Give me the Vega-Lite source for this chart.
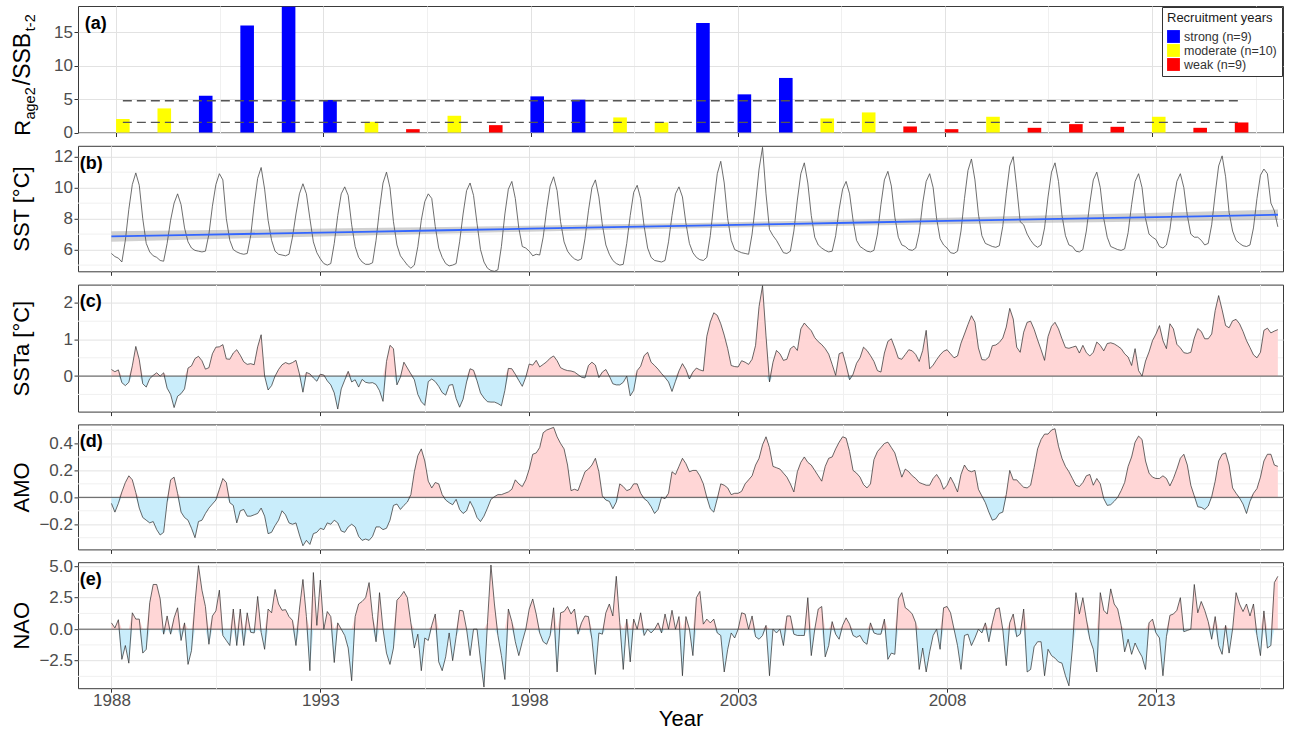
{
  "$schema": "https://vega.github.io/schema/vega-lite/v6.json",
  "background": "white",
  "padding": {"left": 9, "top": 5, "right": 5, "bottom": 4},
  "spacing": 12.8,
  "bounds": "flush",
  "config": {
    "font": "Liberation Sans",
    "view": {"stroke": "#3a3a3a", "strokeWidth": 1},
    "axis": {
      "domain": false,
      "grid": true,
      "labelOverlap": false,
      "tickColor": "#333333",
      "tickSize": 4,
      "tickWidth": 1,
      "labelColor": "#4D4D4D",
      "labelFontSize": 17,
      "labelPadding": 1.5,
      "titleFontSize": 22,
      "titleFontWeight": "normal",
      "titleColor": "#000000"
    }
  },
  "datasets": {
    "recruit": [
      {"year": 1988, "ratio": 2.0, "group": "moderate"},
      {"year": 1989, "ratio": 3.6, "group": "moderate"},
      {"year": 1990, "ratio": 5.5, "group": "strong"},
      {"year": 1991, "ratio": 16.0, "group": "strong"},
      {"year": 1992, "ratio": 18.8, "group": "strong"},
      {"year": 1993, "ratio": 4.85, "group": "strong"},
      {"year": 1994, "ratio": 1.6, "group": "moderate"},
      {"year": 1995, "ratio": 0.5, "group": "weak"},
      {"year": 1996, "ratio": 2.5, "group": "moderate"},
      {"year": 1997, "ratio": 1.1, "group": "weak"},
      {"year": 1998, "ratio": 5.4, "group": "strong"},
      {"year": 1999, "ratio": 4.9, "group": "strong"},
      {"year": 2000, "ratio": 2.25, "group": "moderate"},
      {"year": 2001, "ratio": 1.5, "group": "moderate"},
      {"year": 2002, "ratio": 16.35, "group": "strong"},
      {"year": 2003, "ratio": 5.7, "group": "strong"},
      {"year": 2004, "ratio": 8.15, "group": "strong"},
      {"year": 2005, "ratio": 2.1, "group": "moderate"},
      {"year": 2006, "ratio": 3.0, "group": "moderate"},
      {"year": 2007, "ratio": 0.9, "group": "weak"},
      {"year": 2008, "ratio": 0.5, "group": "weak"},
      {"year": 2009, "ratio": 2.35, "group": "moderate"},
      {"year": 2010, "ratio": 0.7, "group": "weak"},
      {"year": 2011, "ratio": 1.25, "group": "weak"},
      {"year": 2012, "ratio": 0.85, "group": "weak"},
      {"year": 2013, "ratio": 2.35, "group": "moderate"},
      {"year": 2014, "ratio": 0.7, "group": "weak"},
      {"year": 2015, "ratio": 1.5, "group": "weak"}
    ],
    "thresholds": [
      {"level": "upper", "v": 4.74},
      {"level": "lower", "v": 1.5}
    ],
    "trend": [
      {"t": 1988, "fit": 6.85, "lo": 6.51, "hi": 7.19},
      {"t": 1990, "fit": 6.95, "lo": 6.65, "hi": 7.25},
      {"t": 1992, "fit": 7.05, "lo": 6.78, "hi": 7.32},
      {"t": 1994, "fit": 7.15, "lo": 6.91, "hi": 7.39},
      {"t": 1996, "fit": 7.25, "lo": 7.04, "hi": 7.46},
      {"t": 1998, "fit": 7.35, "lo": 7.16, "hi": 7.54},
      {"t": 2000, "fit": 7.45, "lo": 7.28, "hi": 7.63},
      {"t": 2002, "fit": 7.55, "lo": 7.38, "hi": 7.72},
      {"t": 2004, "fit": 7.65, "lo": 7.48, "hi": 7.83},
      {"t": 2006, "fit": 7.75, "lo": 7.56, "hi": 7.94},
      {"t": 2008, "fit": 7.85, "lo": 7.64, "hi": 8.06},
      {"t": 2010, "fit": 7.95, "lo": 7.71, "hi": 8.19},
      {"t": 2012, "fit": 8.05, "lo": 7.78, "hi": 8.32},
      {"t": 2014, "fit": 8.15, "lo": 7.85, "hi": 8.45},
      {"t": 2015.92, "fit": 8.25, "lo": 7.91, "hi": 8.59}
    ],
    "monthly": [
      {"yr":1988,"mo":1,"sst":5.75,"ssta":0.18,"amo":-0.045,"nao":0.5},
      {"yr":1988,"mo":2,"sst":5.55,"ssta":0.12,"amo":-0.11,"nao":0.1},
      {"yr":1988,"mo":3,"sst":5.45,"ssta":0.17,"amo":-0.045,"nao":0.75},
      {"yr":1988,"mo":4,"sst":5.2,"ssta":-0.18,"amo":0.04,"nao":-2.4},
      {"yr":1988,"mo":5,"sst":6.6,"ssta":-0.26,"amo":0.11,"nao":-1.3},
      {"yr":1988,"mo":6,"sst":8.6,"ssta":-0.17,"amo":0.16,"nao":-2.7},
      {"yr":1988,"mo":7,"sst":10.2,"ssta":0.28,"amo":0.13,"nao":1.3},
      {"yr":1988,"mo":8,"sst":10.95,"ssta":0.81,"amo":0.035,"nao":0.8},
      {"yr":1988,"mo":9,"sst":10.15,"ssta":0.45,"amo":-0.08,"nao":0.8},
      {"yr":1988,"mo":10,"sst":8.0,"ssta":-0.21,"amo":-0.15,"nao":-1.9},
      {"yr":1988,"mo":11,"sst":6.4,"ssta":-0.3,"amo":-0.17,"nao":-1.6},
      {"yr":1988,"mo":12,"sst":5.85,"ssta":-0.07,"amo":-0.19,"nao":2.1},
      {"yr":1989,"mo":1,"sst":5.6,"ssta":0.02,"amo":-0.18,"nao":3.55},
      {"yr":1989,"mo":2,"sst":5.5,"ssta":0.09,"amo":-0.24,"nao":3.55},
      {"yr":1989,"mo":3,"sst":5.3,"ssta":0.0,"amo":-0.28,"nao":2.4},
      {"yr":1989,"mo":4,"sst":5.25,"ssta":0.09,"amo":-0.26,"nao":-0.4},
      {"yr":1989,"mo":5,"sst":6.4,"ssta":-0.33,"amo":-0.035,"nao":1.05},
      {"yr":1989,"mo":6,"sst":7.9,"ssta":-0.5,"amo":0.13,"nao":-0.4},
      {"yr":1989,"mo":7,"sst":9.0,"ssta":-0.86,"amo":0.15,"nao":0.9},
      {"yr":1989,"mo":8,"sst":9.6,"ssta":-0.55,"amo":0.03,"nao":1.7},
      {"yr":1989,"mo":9,"sst":8.9,"ssta":-0.48,"amo":-0.11,"nao":-0.9},
      {"yr":1989,"mo":10,"sst":7.4,"ssta":-0.35,"amo":-0.15,"nao":0.5},
      {"yr":1989,"mo":11,"sst":6.5,"ssta":0.22,"amo":-0.17,"nao":-2.8},
      {"yr":1989,"mo":12,"sst":6.1,"ssta":0.28,"amo":-0.23,"nao":-1.7},
      {"yr":1990,"mo":1,"sst":5.95,"ssta":0.48,"amo":-0.3,"nao":2.1},
      {"yr":1990,"mo":2,"sst":5.9,"ssta":0.54,"amo":-0.18,"nao":5.05},
      {"yr":1990,"mo":3,"sst":5.85,"ssta":0.42,"amo":-0.17,"nao":3.1},
      {"yr":1990,"mo":4,"sst":5.9,"ssta":0.19,"amo":-0.12,"nao":1.8},
      {"yr":1990,"mo":5,"sst":7.0,"ssta":0.23,"amo":-0.08,"nao":-1.2},
      {"yr":1990,"mo":6,"sst":8.8,"ssta":0.61,"amo":-0.05,"nao":1.05},
      {"yr":1990,"mo":7,"sst":10.2,"ssta":0.79,"amo":-0.02,"nao":1.45},
      {"yr":1990,"mo":8,"sst":10.9,"ssta":0.8,"amo":0.06,"nao":3.1},
      {"yr":1990,"mo":9,"sst":10.5,"ssta":0.86,"amo":0.14,"nao":-0.5},
      {"yr":1990,"mo":10,"sst":8.0,"ssta":0.47,"amo":0.11,"nao":-0.9},
      {"yr":1990,"mo":11,"sst":6.6,"ssta":0.46,"amo":-0.04,"nao":-1.3},
      {"yr":1990,"mo":12,"sst":6.0,"ssta":0.63,"amo":-0.06,"nao":1.6},
      {"yr":1991,"mo":1,"sst":5.85,"ssta":0.72,"amo":-0.19,"nao":-1.3},
      {"yr":1991,"mo":2,"sst":5.75,"ssta":0.57,"amo":-0.1,"nao":1.6},
      {"yr":1991,"mo":3,"sst":5.7,"ssta":0.39,"amo":-0.09,"nao":-1.3},
      {"yr":1991,"mo":4,"sst":5.75,"ssta":0.32,"amo":-0.14,"nao":1.3},
      {"yr":1991,"mo":5,"sst":6.9,"ssta":0.34,"amo":-0.14,"nao":-0.25},
      {"yr":1991,"mo":6,"sst":8.9,"ssta":0.31,"amo":-0.13,"nao":-0.3},
      {"yr":1991,"mo":7,"sst":10.6,"ssta":0.8,"amo":-0.12,"nao":2.6},
      {"yr":1991,"mo":8,"sst":11.3,"ssta":1.13,"amo":-0.08,"nao":-0.25},
      {"yr":1991,"mo":9,"sst":9.9,"ssta":0.0,"amo":-0.14,"nao":-1.6},
      {"yr":1991,"mo":10,"sst":7.9,"ssta":-0.38,"amo":-0.27,"nao":1.6},
      {"yr":1991,"mo":11,"sst":6.6,"ssta":-0.26,"amo":-0.26,"nao":1.3},
      {"yr":1991,"mo":12,"sst":5.9,"ssta":0.0,"amo":-0.21,"nao":3.15},
      {"yr":1992,"mo":1,"sst":5.7,"ssta":0.18,"amo":-0.17,"nao":2.0},
      {"yr":1992,"mo":2,"sst":5.65,"ssta":0.31,"amo":-0.1,"nao":1.5},
      {"yr":1992,"mo":3,"sst":5.6,"ssta":0.37,"amo":-0.13,"nao":1.55},
      {"yr":1992,"mo":4,"sst":5.7,"ssta":0.33,"amo":-0.19,"nao":1.0},
      {"yr":1992,"mo":5,"sst":6.8,"ssta":0.37,"amo":-0.2,"nao":0.7},
      {"yr":1992,"mo":6,"sst":8.3,"ssta":0.43,"amo":-0.19,"nao":-1.3},
      {"yr":1992,"mo":7,"sst":9.6,"ssta":0.06,"amo":-0.28,"nao":1.6},
      {"yr":1992,"mo":8,"sst":10.25,"ssta":-0.44,"amo":-0.36,"nao":3.95},
      {"yr":1992,"mo":9,"sst":9.6,"ssta":0.1,"amo":-0.32,"nao":1.0},
      {"yr":1992,"mo":10,"sst":8.0,"ssta":0.06,"amo":-0.35,"nao":-3.3},
      {"yr":1992,"mo":11,"sst":6.5,"ssta":-0.05,"amo":-0.27,"nao":4.5},
      {"yr":1992,"mo":12,"sst":5.8,"ssta":-0.14,"amo":-0.26,"nao":0.3},
      {"yr":1993,"mo":1,"sst":5.4,"ssta":0.05,"amo":-0.23,"nao":3.9},
      {"yr":1993,"mo":2,"sst":5.1,"ssta":0.03,"amo":-0.24,"nao":0.0},
      {"yr":1993,"mo":3,"sst":5.0,"ssta":-0.13,"amo":-0.19,"nao":1.4},
      {"yr":1993,"mo":4,"sst":5.1,"ssta":-0.24,"amo":-0.2,"nao":1.0},
      {"yr":1993,"mo":5,"sst":6.4,"ssta":-0.46,"amo":-0.17,"nao":-2.65},
      {"yr":1993,"mo":6,"sst":8.2,"ssta":-0.9,"amo":-0.19,"nao":0.5},
      {"yr":1993,"mo":7,"sst":9.6,"ssta":-0.35,"amo":-0.25,"nao":0.0},
      {"yr":1993,"mo":8,"sst":10.05,"ssta":-0.11,"amo":-0.26,"nao":-0.5},
      {"yr":1993,"mo":9,"sst":9.5,"ssta":0.13,"amo":-0.22,"nao":-1.5},
      {"yr":1993,"mo":10,"sst":7.6,"ssta":-0.16,"amo":-0.2,"nao":-4.1},
      {"yr":1993,"mo":11,"sst":6.2,"ssta":-0.1,"amo":-0.22,"nao":1.0},
      {"yr":1993,"mo":12,"sst":5.5,"ssta":-0.3,"amo":-0.29,"nao":2.0},
      {"yr":1994,"mo":1,"sst":5.2,"ssta":-0.09,"amo":-0.32,"nao":2.2},
      {"yr":1994,"mo":2,"sst":5.05,"ssta":-0.17,"amo":-0.31,"nao":2.5},
      {"yr":1994,"mo":3,"sst":5.05,"ssta":-0.19,"amo":-0.32,"nao":3.7},
      {"yr":1994,"mo":4,"sst":5.15,"ssta":-0.18,"amo":-0.29,"nao":1.0},
      {"yr":1994,"mo":5,"sst":6.6,"ssta":-0.23,"amo":-0.22,"nao":-1.0},
      {"yr":1994,"mo":6,"sst":8.6,"ssta":-0.4,"amo":-0.22,"nao":2.9},
      {"yr":1994,"mo":7,"sst":10.3,"ssta":-0.69,"amo":-0.24,"nao":0.0},
      {"yr":1994,"mo":8,"sst":11.0,"ssta":0.4,"amo":-0.23,"nao":-1.9},
      {"yr":1994,"mo":9,"sst":10.0,"ssta":0.84,"amo":-0.17,"nao":-2.8},
      {"yr":1994,"mo":10,"sst":7.8,"ssta":0.75,"amo":-0.06,"nao":-1.5},
      {"yr":1994,"mo":11,"sst":6.3,"ssta":-0.24,"amo":-0.05,"nao":2.3},
      {"yr":1994,"mo":12,"sst":5.6,"ssta":-0.03,"amo":-0.09,"nao":2.6},
      {"yr":1995,"mo":1,"sst":5.3,"ssta":0.38,"amo":-0.06,"nao":3.0},
      {"yr":1995,"mo":2,"sst":5.0,"ssta":0.22,"amo":-0.035,"nao":2.5},
      {"yr":1995,"mo":3,"sst":4.8,"ssta":0.06,"amo":0.02,"nao":0.5},
      {"yr":1995,"mo":4,"sst":5.0,"ssta":-0.1,"amo":0.19,"nao":-1.5},
      {"yr":1995,"mo":5,"sst":6.2,"ssta":-0.5,"amo":0.31,"nao":-0.4},
      {"yr":1995,"mo":6,"sst":7.9,"ssta":-0.7,"amo":0.36,"nao":-3.3},
      {"yr":1995,"mo":7,"sst":9.1,"ssta":-0.8,"amo":0.27,"nao":-0.7},
      {"yr":1995,"mo":8,"sst":9.6,"ssta":-0.15,"amo":0.12,"nao":-0.9},
      {"yr":1995,"mo":9,"sst":9.3,"ssta":-0.08,"amo":0.07,"nao":0.3},
      {"yr":1995,"mo":10,"sst":7.5,"ssta":-0.15,"amo":0.11,"nao":1.2},
      {"yr":1995,"mo":11,"sst":6.1,"ssta":-0.28,"amo":0.1,"nao":-2.6},
      {"yr":1995,"mo":12,"sst":5.5,"ssta":-0.45,"amo":0.02,"nao":-3.3},
      {"yr":1996,"mo":1,"sst":5.1,"ssta":-0.52,"amo":-0.02,"nao":-2.2},
      {"yr":1996,"mo":2,"sst":4.95,"ssta":-0.25,"amo":-0.04,"nao":-0.3},
      {"yr":1996,"mo":3,"sst":5.0,"ssta":-0.23,"amo":-0.055,"nao":-2.5},
      {"yr":1996,"mo":4,"sst":5.1,"ssta":-0.61,"amo":-0.015,"nao":-0.6},
      {"yr":1996,"mo":5,"sst":6.5,"ssta":-0.85,"amo":-0.09,"nao":1.5},
      {"yr":1996,"mo":6,"sst":8.3,"ssta":-0.63,"amo":-0.12,"nao":1.45},
      {"yr":1996,"mo":7,"sst":9.8,"ssta":-0.16,"amo":-0.1,"nao":0.0},
      {"yr":1996,"mo":8,"sst":10.3,"ssta":0.2,"amo":-0.03,"nao":-2.1},
      {"yr":1996,"mo":9,"sst":9.5,"ssta":0.16,"amo":-0.08,"nao":0.0},
      {"yr":1996,"mo":10,"sst":7.7,"ssta":-0.13,"amo":-0.15,"nao":0.0},
      {"yr":1996,"mo":11,"sst":6.0,"ssta":-0.46,"amo":-0.18,"nao":-2.5},
      {"yr":1996,"mo":12,"sst":5.2,"ssta":-0.6,"amo":-0.14,"nao":-4.6},
      {"yr":1997,"mo":1,"sst":4.8,"ssta":-0.7,"amo":-0.08,"nao":0.5},
      {"yr":1997,"mo":2,"sst":4.65,"ssta":-0.71,"amo":-0.015,"nao":5.1},
      {"yr":1997,"mo":3,"sst":4.6,"ssta":-0.71,"amo":0.005,"nao":2.0},
      {"yr":1997,"mo":4,"sst":4.7,"ssta":-0.75,"amo":0.02,"nao":-0.5},
      {"yr":1997,"mo":5,"sst":6.2,"ssta":-0.81,"amo":0.02,"nao":-2.1},
      {"yr":1997,"mo":6,"sst":8.3,"ssta":-0.39,"amo":0.03,"nao":-4.0},
      {"yr":1997,"mo":7,"sst":9.9,"ssta":0.21,"amo":0.04,"nao":1.6},
      {"yr":1997,"mo":8,"sst":10.4,"ssta":0.2,"amo":0.06,"nao":0.6},
      {"yr":1997,"mo":9,"sst":9.3,"ssta":0.05,"amo":0.13,"nao":-1.0},
      {"yr":1997,"mo":10,"sst":7.4,"ssta":-0.12,"amo":0.1,"nao":-2.1},
      {"yr":1997,"mo":11,"sst":6.2,"ssta":-0.28,"amo":0.08,"nao":-1.0},
      {"yr":1997,"mo":12,"sst":6.1,"ssta":-0.03,"amo":0.13,"nao":0.0},
      {"yr":1998,"mo":1,"sst":5.9,"ssta":0.33,"amo":0.21,"nao":1.6},
      {"yr":1998,"mo":2,"sst":5.6,"ssta":0.3,"amo":0.32,"nao":2.4},
      {"yr":1998,"mo":3,"sst":5.7,"ssta":0.43,"amo":0.33,"nao":1.2},
      {"yr":1998,"mo":4,"sst":5.65,"ssta":0.25,"amo":0.37,"nao":-0.3},
      {"yr":1998,"mo":5,"sst":6.8,"ssta":0.32,"amo":0.48,"nao":-1.0},
      {"yr":1998,"mo":6,"sst":8.6,"ssta":0.39,"amo":0.5,"nao":-1.2},
      {"yr":1998,"mo":7,"sst":10.1,"ssta":0.49,"amo":0.51,"nao":-0.5},
      {"yr":1998,"mo":8,"sst":10.7,"ssta":0.55,"amo":0.52,"nao":1.7},
      {"yr":1998,"mo":9,"sst":9.8,"ssta":0.42,"amo":0.45,"nao":-3.4},
      {"yr":1998,"mo":10,"sst":7.8,"ssta":0.23,"amo":0.4,"nao":1.3},
      {"yr":1998,"mo":11,"sst":6.5,"ssta":0.18,"amo":0.36,"nao":1.4},
      {"yr":1998,"mo":12,"sst":5.9,"ssta":0.15,"amo":0.24,"nao":1.8},
      {"yr":1999,"mo":1,"sst":5.6,"ssta":0.14,"amo":0.05,"nao":1.2},
      {"yr":1999,"mo":2,"sst":5.4,"ssta":0.11,"amo":0.06,"nao":1.6},
      {"yr":1999,"mo":3,"sst":5.3,"ssta":0.04,"amo":0.05,"nao":-0.4},
      {"yr":1999,"mo":4,"sst":5.4,"ssta":-0.03,"amo":0.12,"nao":0.5},
      {"yr":1999,"mo":5,"sst":6.7,"ssta":-0.05,"amo":0.19,"nao":1.05},
      {"yr":1999,"mo":6,"sst":8.5,"ssta":0.29,"amo":0.21,"nao":1.0},
      {"yr":1999,"mo":7,"sst":10.0,"ssta":0.38,"amo":0.24,"nao":-0.8},
      {"yr":1999,"mo":8,"sst":10.5,"ssta":0.3,"amo":0.29,"nao":-3.6},
      {"yr":1999,"mo":9,"sst":9.4,"ssta":-0.04,"amo":0.19,"nao":-0.3},
      {"yr":1999,"mo":10,"sst":7.6,"ssta":0.11,"amo":0.01,"nao":-0.4},
      {"yr":1999,"mo":11,"sst":6.3,"ssta":0.18,"amo":-0.02,"nao":1.3},
      {"yr":1999,"mo":12,"sst":5.7,"ssta":0.0,"amo":-0.03,"nao":2.0},
      {"yr":2000,"mo":1,"sst":5.3,"ssta":-0.21,"amo":-0.085,"nao":1.05},
      {"yr":2000,"mo":2,"sst":5.1,"ssta":-0.24,"amo":-0.035,"nao":4.2},
      {"yr":2000,"mo":3,"sst":5.0,"ssta":-0.24,"amo":0.1,"nao":0.5},
      {"yr":2000,"mo":4,"sst":5.05,"ssta":-0.17,"amo":0.08,"nao":-3.2},
      {"yr":2000,"mo":5,"sst":6.4,"ssta":0.0,"amo":0.05,"nao":0.8},
      {"yr":2000,"mo":6,"sst":8.2,"ssta":-0.54,"amo":0.06,"nao":-2.6},
      {"yr":2000,"mo":7,"sst":9.7,"ssta":-0.39,"amo":0.1,"nao":0.8},
      {"yr":2000,"mo":8,"sst":10.15,"ssta":0.15,"amo":0.1,"nao":0.0},
      {"yr":2000,"mo":9,"sst":9.3,"ssta":0.27,"amo":0.03,"nao":1.3},
      {"yr":2000,"mo":10,"sst":7.5,"ssta":0.56,"amo":-0.01,"nao":-0.5},
      {"yr":2000,"mo":11,"sst":6.1,"ssta":0.65,"amo":-0.03,"nao":0.0},
      {"yr":2000,"mo":12,"sst":5.5,"ssta":0.38,"amo":-0.07,"nao":-0.3},
      {"yr":2001,"mo":1,"sst":5.3,"ssta":0.29,"amo":-0.12,"nao":0.0},
      {"yr":2001,"mo":2,"sst":5.25,"ssta":0.19,"amo":-0.09,"nao":0.5},
      {"yr":2001,"mo":3,"sst":5.2,"ssta":0.07,"amo":0.0,"nao":-0.3},
      {"yr":2001,"mo":4,"sst":5.3,"ssta":-0.04,"amo":-0.01,"nao":1.2},
      {"yr":2001,"mo":5,"sst":6.5,"ssta":-0.16,"amo":0.03,"nao":0.0},
      {"yr":2001,"mo":6,"sst":8.2,"ssta":-0.42,"amo":0.19,"nao":1.5},
      {"yr":2001,"mo":7,"sst":9.6,"ssta":-0.14,"amo":0.17,"nao":0.0},
      {"yr":2001,"mo":8,"sst":10.05,"ssta":0.14,"amo":0.23,"nao":1.0},
      {"yr":2001,"mo":9,"sst":9.4,"ssta":0.34,"amo":0.29,"nao":-3.7},
      {"yr":2001,"mo":10,"sst":7.7,"ssta":0.18,"amo":0.25,"nao":1.0},
      {"yr":2001,"mo":11,"sst":6.4,"ssta":-0.08,"amo":0.19,"nao":0.0},
      {"yr":2001,"mo":12,"sst":5.8,"ssta":0.11,"amo":0.2,"nao":-2.1},
      {"yr":2002,"mo":1,"sst":5.5,"ssta":0.22,"amo":0.2,"nao":2.5},
      {"yr":2002,"mo":2,"sst":5.35,"ssta":0.17,"amo":0.16,"nao":3.0},
      {"yr":2002,"mo":3,"sst":5.3,"ssta":0.14,"amo":0.1,"nao":0.4},
      {"yr":2002,"mo":4,"sst":5.5,"ssta":1.09,"amo":0.0,"nao":0.8},
      {"yr":2002,"mo":5,"sst":6.9,"ssta":1.48,"amo":-0.085,"nao":0.5},
      {"yr":2002,"mo":6,"sst":9.0,"ssta":1.73,"amo":-0.11,"nao":0.8},
      {"yr":2002,"mo":7,"sst":10.9,"ssta":1.66,"amo":-0.01,"nao":-0.3},
      {"yr":2002,"mo":8,"sst":11.7,"ssta":1.43,"amo":0.1,"nao":-0.5},
      {"yr":2002,"mo":9,"sst":10.3,"ssta":1.12,"amo":0.09,"nao":-3.4},
      {"yr":2002,"mo":10,"sst":8.0,"ssta":0.75,"amo":0.07,"nao":-1.6},
      {"yr":2002,"mo":11,"sst":6.6,"ssta":0.29,"amo":0.02,"nao":-0.3},
      {"yr":2002,"mo":12,"sst":6.0,"ssta":0.26,"amo":0.03,"nao":-0.7},
      {"yr":2003,"mo":1,"sst":5.9,"ssta":0.25,"amo":0.03,"nao":0.0},
      {"yr":2003,"mo":2,"sst":5.8,"ssta":0.42,"amo":0.045,"nao":1.3},
      {"yr":2003,"mo":3,"sst":5.75,"ssta":0.38,"amo":0.1,"nao":1.2},
      {"yr":2003,"mo":4,"sst":5.7,"ssta":0.32,"amo":0.13,"nao":0.0},
      {"yr":2003,"mo":5,"sst":7.0,"ssta":0.46,"amo":0.16,"nao":1.05},
      {"yr":2003,"mo":6,"sst":9.0,"ssta":0.84,"amo":0.24,"nao":-0.6},
      {"yr":2003,"mo":7,"sst":11.2,"ssta":1.9,"amo":0.29,"nao":-0.8},
      {"yr":2003,"mo":8,"sst":12.6,"ssta":2.47,"amo":0.39,"nao":-0.5},
      {"yr":2003,"mo":9,"sst":9.6,"ssta":1.1,"amo":0.45,"nao":0.3},
      {"yr":2003,"mo":10,"sst":7.3,"ssta":-0.16,"amo":0.37,"nao":-3.7},
      {"yr":2003,"mo":11,"sst":6.9,"ssta":0.38,"amo":0.23,"nao":0.0},
      {"yr":2003,"mo":12,"sst":6.6,"ssta":0.7,"amo":0.22,"nao":-0.3},
      {"yr":2004,"mo":1,"sst":6.2,"ssta":0.61,"amo":0.21,"nao":0.0},
      {"yr":2004,"mo":2,"sst":5.8,"ssta":0.43,"amo":0.18,"nao":-1.3},
      {"yr":2004,"mo":3,"sst":5.75,"ssta":0.46,"amo":0.15,"nao":1.05},
      {"yr":2004,"mo":4,"sst":5.9,"ssta":0.75,"amo":0.1,"nao":1.05},
      {"yr":2004,"mo":5,"sst":7.2,"ssta":0.82,"amo":0.04,"nao":-0.4},
      {"yr":2004,"mo":6,"sst":9.2,"ssta":0.7,"amo":0.19,"nao":-0.5},
      {"yr":2004,"mo":7,"sst":10.9,"ssta":1.29,"amo":0.26,"nao":-0.5},
      {"yr":2004,"mo":8,"sst":11.6,"ssta":1.45,"amo":0.3,"nao":-0.5},
      {"yr":2004,"mo":9,"sst":10.3,"ssta":1.34,"amo":0.26,"nao":2.5},
      {"yr":2004,"mo":10,"sst":8.2,"ssta":1.24,"amo":0.24,"nao":-2.1},
      {"yr":2004,"mo":11,"sst":6.8,"ssta":1.05,"amo":0.2,"nao":0.0},
      {"yr":2004,"mo":12,"sst":6.3,"ssta":0.94,"amo":0.16,"nao":1.6},
      {"yr":2005,"mo":1,"sst":6.1,"ssta":0.86,"amo":0.12,"nao":1.8},
      {"yr":2005,"mo":2,"sst":5.95,"ssta":0.75,"amo":0.23,"nao":-2.2},
      {"yr":2005,"mo":3,"sst":5.85,"ssta":0.6,"amo":0.29,"nao":-1.3},
      {"yr":2005,"mo":4,"sst":5.9,"ssta":0.32,"amo":0.3,"nao":0.6},
      {"yr":2005,"mo":5,"sst":6.9,"ssta":0.02,"amo":0.36,"nao":-0.4},
      {"yr":2005,"mo":6,"sst":8.6,"ssta":0.61,"amo":0.41,"nao":-0.8},
      {"yr":2005,"mo":7,"sst":9.9,"ssta":0.65,"amo":0.45,"nao":0.3},
      {"yr":2005,"mo":8,"sst":10.4,"ssta":0.3,"amo":0.44,"nao":0.9},
      {"yr":2005,"mo":9,"sst":9.6,"ssta":-0.1,"amo":0.34,"nao":0.4},
      {"yr":2005,"mo":10,"sst":7.9,"ssta":0.05,"amo":0.2,"nao":-0.5},
      {"yr":2005,"mo":11,"sst":6.6,"ssta":0.35,"amo":0.18,"nao":-0.65},
      {"yr":2005,"mo":12,"sst":6.2,"ssta":0.5,"amo":0.15,"nao":-0.5},
      {"yr":2006,"mo":1,"sst":6.05,"ssta":0.79,"amo":0.095,"nao":-1.0},
      {"yr":2006,"mo":2,"sst":5.9,"ssta":0.7,"amo":0.07,"nao":-1.2},
      {"yr":2006,"mo":3,"sst":5.85,"ssta":0.56,"amo":0.1,"nao":0.5},
      {"yr":2006,"mo":4,"sst":5.95,"ssta":0.4,"amo":0.28,"nao":-0.3},
      {"yr":2006,"mo":5,"sst":7.0,"ssta":0.15,"amo":0.34,"nao":-0.4},
      {"yr":2006,"mo":6,"sst":8.9,"ssta":0.11,"amo":0.37,"nao":-0.4},
      {"yr":2006,"mo":7,"sst":10.5,"ssta":0.63,"amo":0.4,"nao":0.8},
      {"yr":2006,"mo":8,"sst":11.05,"ssta":0.95,"amo":0.41,"nao":-2.4},
      {"yr":2006,"mo":9,"sst":10.1,"ssta":1.02,"amo":0.37,"nao":-1.9},
      {"yr":2006,"mo":10,"sst":8.1,"ssta":0.77,"amo":0.33,"nao":-2.0},
      {"yr":2006,"mo":11,"sst":6.8,"ssta":0.49,"amo":0.24,"nao":2.4},
      {"yr":2006,"mo":12,"sst":6.3,"ssta":0.46,"amo":0.15,"nao":2.9},
      {"yr":2007,"mo":1,"sst":6.2,"ssta":0.59,"amo":0.21,"nao":1.7},
      {"yr":2007,"mo":2,"sst":6.0,"ssta":0.72,"amo":0.19,"nao":1.5},
      {"yr":2007,"mo":3,"sst":5.95,"ssta":0.69,"amo":0.16,"nao":1.2},
      {"yr":2007,"mo":4,"sst":6.1,"ssta":0.59,"amo":0.14,"nao":0.5},
      {"yr":2007,"mo":5,"sst":7.1,"ssta":0.4,"amo":0.11,"nao":-3.2},
      {"yr":2007,"mo":6,"sst":9.0,"ssta":0.7,"amo":0.1,"nao":-1.5},
      {"yr":2007,"mo":7,"sst":10.4,"ssta":1.25,"amo":0.09,"nao":-3.4},
      {"yr":2007,"mo":8,"sst":10.9,"ssta":0.2,"amo":0.09,"nao":-1.8},
      {"yr":2007,"mo":9,"sst":10.0,"ssta":0.3,"amo":0.14,"nao":-0.5},
      {"yr":2007,"mo":10,"sst":8.0,"ssta":0.45,"amo":0.17,"nao":0.0},
      {"yr":2007,"mo":11,"sst":6.7,"ssta":0.58,"amo":0.13,"nao":-1.6},
      {"yr":2007,"mo":12,"sst":6.3,"ssta":0.68,"amo":0.06,"nao":1.7},
      {"yr":2008,"mo":1,"sst":6.1,"ssta":0.72,"amo":0.09,"nao":1.8},
      {"yr":2008,"mo":2,"sst":5.8,"ssta":0.61,"amo":0.15,"nao":1.3},
      {"yr":2008,"mo":3,"sst":5.75,"ssta":0.5,"amo":0.1,"nao":0.0},
      {"yr":2008,"mo":4,"sst":5.9,"ssta":0.55,"amo":0.04,"nao":-1.3},
      {"yr":2008,"mo":5,"sst":7.2,"ssta":0.9,"amo":0.17,"nao":-3.2},
      {"yr":2008,"mo":6,"sst":9.3,"ssta":1.15,"amo":0.24,"nao":-0.5},
      {"yr":2008,"mo":7,"sst":11.1,"ssta":1.41,"amo":0.2,"nao":-0.4},
      {"yr":2008,"mo":8,"sst":11.85,"ssta":1.65,"amo":0.19,"nao":-1.3},
      {"yr":2008,"mo":9,"sst":10.5,"ssta":1.47,"amo":0.2,"nao":-0.7},
      {"yr":2008,"mo":10,"sst":8.3,"ssta":0.77,"amo":0.06,"nao":0.0},
      {"yr":2008,"mo":11,"sst":6.9,"ssta":0.45,"amo":0.01,"nao":-0.3},
      {"yr":2008,"mo":12,"sst":6.4,"ssta":0.44,"amo":-0.04,"nao":0.5},
      {"yr":2009,"mo":1,"sst":6.3,"ssta":0.52,"amo":-0.11,"nao":-1.0},
      {"yr":2009,"mo":2,"sst":6.2,"ssta":0.83,"amo":-0.17,"nao":0.5},
      {"yr":2009,"mo":3,"sst":6.15,"ssta":0.85,"amo":-0.16,"nao":1.6},
      {"yr":2009,"mo":4,"sst":6.25,"ssta":0.92,"amo":-0.12,"nao":1.7},
      {"yr":2009,"mo":5,"sst":7.5,"ssta":1.04,"amo":-0.11,"nao":0.0},
      {"yr":2009,"mo":6,"sst":9.6,"ssta":1.34,"amo":0.02,"nao":-2.9},
      {"yr":2009,"mo":7,"sst":11.4,"ssta":1.85,"amo":0.2,"nao":0.5},
      {"yr":2009,"mo":8,"sst":12.0,"ssta":1.56,"amo":0.13,"nao":1.2},
      {"yr":2009,"mo":9,"sst":10.0,"ssta":0.79,"amo":0.13,"nao":-0.6},
      {"yr":2009,"mo":10,"sst":7.8,"ssta":0.65,"amo":0.1,"nao":-0.4},
      {"yr":2009,"mo":11,"sst":7.6,"ssta":1.2,"amo":0.075,"nao":1.6},
      {"yr":2009,"mo":12,"sst":7.0,"ssta":1.47,"amo":0.07,"nao":-3.4},
      {"yr":2010,"mo":1,"sst":6.6,"ssta":1.5,"amo":0.09,"nao":-3.2},
      {"yr":2010,"mo":2,"sst":6.3,"ssta":1.28,"amo":0.22,"nao":-1.4},
      {"yr":2010,"mo":3,"sst":6.15,"ssta":0.99,"amo":0.36,"nao":-1.0},
      {"yr":2010,"mo":4,"sst":6.3,"ssta":0.72,"amo":0.43,"nao":-1.0},
      {"yr":2010,"mo":5,"sst":7.4,"ssta":0.43,"amo":0.47,"nao":-3.7},
      {"yr":2010,"mo":6,"sst":9.4,"ssta":1.08,"amo":0.47,"nao":-1.6},
      {"yr":2010,"mo":7,"sst":11.0,"ssta":1.36,"amo":0.5,"nao":-2.1},
      {"yr":2010,"mo":8,"sst":11.6,"ssta":1.47,"amo":0.51,"nao":-2.3},
      {"yr":2010,"mo":9,"sst":10.4,"ssta":1.29,"amo":0.38,"nao":-2.6},
      {"yr":2010,"mo":10,"sst":8.2,"ssta":1.02,"amo":0.29,"nao":-2.7},
      {"yr":2010,"mo":11,"sst":6.9,"ssta":0.78,"amo":0.23,"nao":-3.7},
      {"yr":2010,"mo":12,"sst":6.3,"ssta":0.76,"amo":0.19,"nao":-4.5},
      {"yr":2011,"mo":1,"sst":6.2,"ssta":0.79,"amo":0.14,"nao":-1.5},
      {"yr":2011,"mo":2,"sst":5.9,"ssta":0.82,"amo":0.09,"nao":2.9},
      {"yr":2011,"mo":3,"sst":5.85,"ssta":0.63,"amo":0.08,"nao":1.2},
      {"yr":2011,"mo":4,"sst":6.0,"ssta":0.84,"amo":0.11,"nao":2.5},
      {"yr":2011,"mo":5,"sst":7.2,"ssta":0.64,"amo":0.16,"nao":0.8},
      {"yr":2011,"mo":6,"sst":9.0,"ssta":0.55,"amo":0.17,"nao":-0.8},
      {"yr":2011,"mo":7,"sst":10.5,"ssta":0.65,"amo":0.09,"nao":-1.6},
      {"yr":2011,"mo":8,"sst":11.0,"ssta":0.93,"amo":0.14,"nao":-3.4},
      {"yr":2011,"mo":9,"sst":10.0,"ssta":0.84,"amo":0.1,"nao":2.9},
      {"yr":2011,"mo":10,"sst":8.0,"ssta":0.69,"amo":-0.01,"nao":1.5},
      {"yr":2011,"mo":11,"sst":6.8,"ssta":0.89,"amo":-0.06,"nao":1.2},
      {"yr":2011,"mo":12,"sst":6.2,"ssta":0.91,"amo":-0.055,"nao":3.2},
      {"yr":2012,"mo":1,"sst":6.1,"ssta":0.88,"amo":-0.03,"nao":2.0},
      {"yr":2012,"mo":2,"sst":6.0,"ssta":0.82,"amo":0.0,"nao":1.6},
      {"yr":2012,"mo":3,"sst":5.95,"ssta":0.75,"amo":0.05,"nao":0.3},
      {"yr":2012,"mo":4,"sst":6.05,"ssta":0.61,"amo":0.11,"nao":-1.8},
      {"yr":2012,"mo":5,"sst":7.1,"ssta":0.52,"amo":0.23,"nao":-0.8},
      {"yr":2012,"mo":6,"sst":8.9,"ssta":0.29,"amo":0.3,"nao":-2.0},
      {"yr":2012,"mo":7,"sst":10.4,"ssta":0.75,"amo":0.41,"nao":-1.1},
      {"yr":2012,"mo":8,"sst":10.9,"ssta":0.15,"amo":0.455,"nao":-1.7},
      {"yr":2012,"mo":9,"sst":10.0,"ssta":0.0,"amo":0.43,"nao":-2.2},
      {"yr":2012,"mo":10,"sst":8.0,"ssta":0.41,"amo":0.27,"nao":-3.2},
      {"yr":2012,"mo":11,"sst":7.0,"ssta":0.66,"amo":0.18,"nao":0.5},
      {"yr":2012,"mo":12,"sst":6.8,"ssta":0.97,"amo":0.15,"nao":0.8},
      {"yr":2013,"mo":1,"sst":6.65,"ssta":1.15,"amo":0.14,"nao":-0.3},
      {"yr":2013,"mo":2,"sst":6.2,"ssta":1.38,"amo":0.14,"nao":-0.7},
      {"yr":2013,"mo":3,"sst":6.1,"ssta":0.97,"amo":0.16,"nao":-3.7},
      {"yr":2013,"mo":4,"sst":6.3,"ssta":0.75,"amo":0.14,"nao":-0.6},
      {"yr":2013,"mo":5,"sst":7.3,"ssta":1.43,"amo":0.085,"nao":1.1},
      {"yr":2013,"mo":6,"sst":9.0,"ssta":1.29,"amo":0.14,"nao":1.2},
      {"yr":2013,"mo":7,"sst":10.4,"ssta":0.87,"amo":0.21,"nao":1.5},
      {"yr":2013,"mo":8,"sst":10.9,"ssta":0.77,"amo":0.29,"nao":2.5},
      {"yr":2013,"mo":9,"sst":10.0,"ssta":0.64,"amo":0.32,"nao":-0.2},
      {"yr":2013,"mo":10,"sst":8.2,"ssta":0.62,"amo":0.24,"nao":-0.1},
      {"yr":2013,"mo":11,"sst":7.0,"ssta":0.65,"amo":0.09,"nao":0.0},
      {"yr":2013,"mo":12,"sst":6.8,"ssta":1.04,"amo":0.01,"nao":3.55},
      {"yr":2014,"mo":1,"sst":6.8,"ssta":1.3,"amo":-0.07,"nao":1.3},
      {"yr":2014,"mo":2,"sst":6.6,"ssta":1.22,"amo":-0.075,"nao":2.2},
      {"yr":2014,"mo":3,"sst":6.3,"ssta":1.02,"amo":-0.09,"nao":1.5},
      {"yr":2014,"mo":4,"sst":6.4,"ssta":1.02,"amo":-0.065,"nao":0.6},
      {"yr":2014,"mo":5,"sst":7.6,"ssta":1.15,"amo":0.005,"nao":-0.8},
      {"yr":2014,"mo":6,"sst":9.6,"ssta":1.79,"amo":0.12,"nao":1.0},
      {"yr":2014,"mo":7,"sst":11.4,"ssta":2.2,"amo":0.27,"nao":-1.3},
      {"yr":2014,"mo":8,"sst":12.05,"ssta":1.81,"amo":0.32,"nao":-2.0},
      {"yr":2014,"mo":9,"sst":10.7,"ssta":1.38,"amo":0.33,"nao":0.3},
      {"yr":2014,"mo":10,"sst":8.4,"ssta":1.32,"amo":0.24,"nao":-1.9},
      {"yr":2014,"mo":11,"sst":7.2,"ssta":1.51,"amo":0.07,"nao":0.0},
      {"yr":2014,"mo":12,"sst":6.6,"ssta":1.55,"amo":0.03,"nao":2.9},
      {"yr":2015,"mo":1,"sst":6.4,"ssta":1.43,"amo":-0.005,"nao":2.0},
      {"yr":2015,"mo":2,"sst":6.25,"ssta":1.22,"amo":-0.05,"nao":1.4},
      {"yr":2015,"mo":3,"sst":6.2,"ssta":0.97,"amo":-0.12,"nao":2.0},
      {"yr":2015,"mo":4,"sst":6.3,"ssta":0.78,"amo":-0.03,"nao":1.05},
      {"yr":2015,"mo":5,"sst":7.4,"ssta":0.58,"amo":0.03,"nao":2.0},
      {"yr":2015,"mo":6,"sst":9.3,"ssta":0.5,"amo":0.065,"nao":-0.5},
      {"yr":2015,"mo":7,"sst":10.8,"ssta":0.65,"amo":0.15,"nao":-2.1},
      {"yr":2015,"mo":8,"sst":11.2,"ssta":1.25,"amo":0.27,"nao":1.45},
      {"yr":2015,"mo":9,"sst":10.9,"ssta":1.31,"amo":0.32,"nao":-1.5},
      {"yr":2015,"mo":10,"sst":9.0,"ssta":1.18,"amo":0.32,"nao":-1.3},
      {"yr":2015,"mo":11,"sst":8.5,"ssta":1.23,"amo":0.24,"nao":3.7},
      {"yr":2015,"mo":12,"sst":7.47,"ssta":1.27,"amo":0.23,"nao":4.2}
    ]
  },
  "vconcat": [
    {
      "width": 1205,
      "height": 126.5,
      "layer": [
        {
          "data": {"name": "recruit"},
          "mark": {"type": "bar", "width": 13.6, "xOffset": 6.7},
          "encoding": {
            "x": {"field": "year", "type": "quantitative", "scale": {"domain": [1987.2, 2016.04], "nice": false, "zero": false},
              "axis": {"values": [1988, 1990.5, 1993, 1995.5, 1998, 2000.5, 2003, 2005.5, 2008, 2010.5, 2013, 2015.5], "labels": false, "title": null,
                "gridColor": {"condition": {"test": "datum.value % 5 === 3", "value": "#E2E2E2"}, "value": "#F0F0F0"},
                "tickOpacity": {"condition": {"test": "datum.value % 5 === 3", "value": 1}, "value": 0}}},
            "y": {"field": "ratio", "type": "quantitative", "scale": {"domain": [0, 18.9], "nice": false, "zero": false},
              "axis": {"values": [0, 2.5, 5, 7.5, 10, 12.5, 15, 17.5], "title": null,
                "labelExpr": "datum.value % 5 === 0 ? format(datum.value, 'd') : ''",
                "gridColor": {"condition": {"test": "datum.value % 5 === 0", "value": "#E2E2E2"}, "value": "#F0F0F0"},
                "tickOpacity": {"condition": {"test": "datum.value % 5 === 0", "value": 1}, "value": 0}}},
            "color": {"field": "group", "type": "nominal",
              "scale": {"domain": ["strong", "moderate", "weak"], "range": ["#0000FF", "#FFFF00", "#FF0000"]},
              "legend": {"title": "Recruitment years", "orient": "top-right", "offset": 1,
                "labelExpr": "datum.label === 'moderate' ? 'moderate (n=10)' : datum.label + ' (n=9)'",
                "fillColor": "white", "strokeColor": "#333333", "padding": 5, "cornerRadius": 0,
                "titleFontSize": 13, "titleFontWeight": "normal", "titleColor": "#1a1a1a", "titlePadding": 5,
                "labelFontSize": 12.5, "labelColor": "#333333", "symbolType": "square", "symbolSize": 165,
                "symbolStrokeWidth": 0, "symbolOpacity": 1, "rowPadding": 1}}
          }
        },
        {
          "data": {"name": "thresholds"},
          "mark": {"type": "rule", "color": "#555555", "strokeWidth": 1.3, "strokeDash": [9, 5], "xOffset": 6.7, "x2Offset": 6.7},
          "encoding": {
            "x": {"datum": 1988, "type": "quantitative", "scale": {"domain": [1987.2, 2016.04], "nice": false, "zero": false}},
            "x2": {"datum": 2015},
            "y": {"field": "v", "type": "quantitative", "scale": {"domain": [0, 18.9], "nice": false, "zero": false}}
          }
        },
        {
          "data": {"values": [{}]},
          "mark": {"type": "text", "text": "(a)", "fontWeight": "bold", "fontSize": 18, "align": "left", "baseline": "alphabetic", "dx": 1.7, "dy": 22.7, "color": "#000000"},
          "encoding": {
            "x": {"datum": 1987.2, "type": "quantitative", "scale": {"domain": [1987.2, 2016.04], "nice": false, "zero": false}},
            "y": {"datum": 18.9, "type": "quantitative", "scale": {"domain": [0, 18.9], "nice": false, "zero": false}}
          }
        },
        {
          "data": {"values": [{}]},
          "mark": {"type": "text", "text": "R", "fontSize": 22, "angle": 270, "align": "left", "baseline": "alphabetic", "dx": 0, "dy": 0, "color": "#000000"},
          "encoding": {
            "x": {"datum": 1985.92, "type": "quantitative", "scale": {"domain": [1987.2, 2016.04], "nice": false, "zero": false}},
            "y": {"datum": -0.48, "type": "quantitative", "scale": {"domain": [0, 18.9], "nice": false, "zero": false}}
          }
        },
        {
          "data": {"values": [{}]},
          "mark": {"type": "text", "text": "age2", "fontSize": 14.5, "angle": 270, "align": "left", "baseline": "alphabetic", "dx": 16.2, "dy": 5.5, "color": "#000000"},
          "encoding": {
            "x": {"datum": 1985.92, "type": "quantitative", "scale": {"domain": [1987.2, 2016.04], "nice": false, "zero": false}},
            "y": {"datum": -0.48, "type": "quantitative", "scale": {"domain": [0, 18.9], "nice": false, "zero": false}}
          }
        },
        {
          "data": {"values": [{}]},
          "mark": {"type": "text", "text": "/SSB", "fontSize": 23, "angle": 270, "align": "left", "baseline": "alphabetic", "dx": 50.5, "dy": 0, "color": "#000000"},
          "encoding": {
            "x": {"datum": 1985.92, "type": "quantitative", "scale": {"domain": [1987.2, 2016.04], "nice": false, "zero": false}},
            "y": {"datum": -0.48, "type": "quantitative", "scale": {"domain": [0, 18.9], "nice": false, "zero": false}}
          }
        },
        {
          "data": {"values": [{}]},
          "mark": {"type": "text", "text": "t-2", "fontSize": 14.5, "angle": 270, "align": "left", "baseline": "alphabetic", "dx": 104.5, "dy": 5.5, "color": "#000000"},
          "encoding": {
            "x": {"datum": 1985.92, "type": "quantitative", "scale": {"domain": [1987.2, 2016.04], "nice": false, "zero": false}},
            "y": {"datum": -0.48, "type": "quantitative", "scale": {"domain": [0, 18.9], "nice": false, "zero": false}}
          }
        }
      ]
    },
    {
      "width": 1205,
      "height": 125.5,
      "layer": [
        {
          "data": {"values": [{"g": 5}, {"g": 7}, {"g": 9}, {"g": 11}]},
          "mark": {"type": "rule", "color": "#F0F0F0", "strokeWidth": 1},
          "encoding": {
            "y": {"field": "g", "type": "quantitative", "scale": {"domain": [4.6, 12.7], "nice": false, "zero": false}}
          }
        },
        {
          "data": {"name": "trend"},
          "mark": {"type": "area", "color": "#999999", "opacity": 0.45},
          "encoding": {
            "x": {"field": "t", "type": "quantitative", "scale": {"domain": [1987.2, 2016.04], "nice": false, "zero": false},
              "axis": {"values": [1988, 1990.5, 1993, 1995.5, 1998, 2000.5, 2003, 2005.5, 2008, 2010.5, 2013, 2015.5], "labels": false, "title": null,
                "gridColor": {"condition": {"test": "datum.value % 5 === 3", "value": "#E2E2E2"}, "value": "#F0F0F0"},
                "tickOpacity": {"condition": {"test": "datum.value % 5 === 3", "value": 1}, "value": 0}}},
            "y": {"field": "lo", "type": "quantitative", "scale": {"domain": [4.6, 12.7], "nice": false, "zero": false},
              "axis": {"values": [6, 8, 10, 12], "format": "d", "gridColor": "#E2E2E2",
                "title": "SST [°C]", "titleX": -50, "titleBaseline": "alphabetic", "titleAngle": 270}},
            "y2": {"field": "hi"}
          }
        },
        {
          "data": {"name": "monthly"},
          "transform": [{"calculate": "datum.yr + (datum.mo - 1) / 12", "as": "t"}],
          "mark": {"type": "line", "color": "#4a4a4a", "strokeWidth": 0.8},
          "encoding": {
            "x": {"field": "t", "type": "quantitative", "scale": {"domain": [1987.2, 2016.04], "nice": false, "zero": false}},
            "y": {"field": "sst", "type": "quantitative", "scale": {"domain": [4.6, 12.7], "nice": false, "zero": false}}
          }
        },
        {
          "data": {"name": "trend"},
          "mark": {"type": "line", "color": "#3366FF", "strokeWidth": 1.8},
          "encoding": {
            "x": {"field": "t", "type": "quantitative", "scale": {"domain": [1987.2, 2016.04], "nice": false, "zero": false}},
            "y": {"field": "fit", "type": "quantitative", "scale": {"domain": [4.6, 12.7], "nice": false, "zero": false}}
          }
        },
        {
          "data": {"values": [{}]},
          "mark": {"type": "text", "text": "(b)", "fontWeight": "bold", "fontSize": 18, "align": "left", "baseline": "alphabetic", "dx": 1.7, "dy": 22.7, "color": "#000000"},
          "encoding": {
            "x": {"datum": 1987.2, "type": "quantitative", "scale": {"domain": [1987.2, 2016.04], "nice": false, "zero": false}},
            "y": {"datum": 12.7, "type": "quantitative", "scale": {"domain": [4.6, 12.7], "nice": false, "zero": false}}
          }
        }
      ]
    },
    {
      "width": 1205,
      "height": 127,
      "data": {"name": "monthly"},
      "transform": [
        {"calculate": "datum.yr + (datum.mo - 1) / 12", "as": "t"},
        {"calculate": "max(datum.ssta, 0)", "as": "pos"},
        {"calculate": "min(datum.ssta, 0)", "as": "neg"}
      ],
      "layer": [
        {
          "data": {"values": [{"g": -0.5}, {"g": 0.5}, {"g": 1.5}]},
          "mark": {"type": "rule", "color": "#F0F0F0", "strokeWidth": 1},
          "encoding": {
            "y": {"field": "g", "type": "quantitative", "scale": {"domain": [-0.97, 2.5], "nice": false, "zero": false}}
          }
        },
        {
          "mark": {"type": "area", "color": "#FFD6D6"},
          "encoding": {
            "x": {"field": "t", "type": "quantitative", "scale": {"domain": [1987.2, 2016.04], "nice": false, "zero": false},
              "axis": {"values": [1988, 1990.5, 1993, 1995.5, 1998, 2000.5, 2003, 2005.5, 2008, 2010.5, 2013, 2015.5], "labels": false, "title": null,
                "gridColor": {"condition": {"test": "datum.value % 5 === 3", "value": "#E2E2E2"}, "value": "#F0F0F0"},
                "tickOpacity": {"condition": {"test": "datum.value % 5 === 3", "value": 1}, "value": 0}}},
            "y": {"field": "pos", "type": "quantitative", "scale": {"domain": [-0.97, 2.5], "nice": false, "zero": false},
              "axis": {"values": [0, 1, 2], "format": "d", "gridColor": "#E2E2E2",
                "title": "SSTa [°C]", "titleX": -50, "titleBaseline": "alphabetic", "titleAngle": 270}},
            "y2": {"datum": 0}
          }
        },
        {
          "mark": {"type": "area", "color": "#C9EDFB"},
          "encoding": {
            "x": {"field": "t", "type": "quantitative", "scale": {"domain": [1987.2, 2016.04], "nice": false, "zero": false}},
            "y": {"field": "neg", "type": "quantitative", "scale": {"domain": [-0.97, 2.5], "nice": false, "zero": false}},
            "y2": {"datum": 0}
          }
        },
        {
          "data": {"values": [{}]},
          "mark": {"type": "rule", "color": "#555555", "strokeWidth": 1},
          "encoding": {
            "y": {"datum": 0, "type": "quantitative", "scale": {"domain": [-0.97, 2.5], "nice": false, "zero": false}}
          }
        },
        {
          "mark": {"type": "line", "color": "#2a2a2a", "strokeWidth": 0.7},
          "encoding": {
            "x": {"field": "t", "type": "quantitative", "scale": {"domain": [1987.2, 2016.04], "nice": false, "zero": false}},
            "y": {"field": "ssta", "type": "quantitative", "scale": {"domain": [-0.97, 2.5], "nice": false, "zero": false}}
          }
        },
        {
          "data": {"values": [{}]},
          "mark": {"type": "text", "text": "(c)", "fontWeight": "bold", "fontSize": 18, "align": "left", "baseline": "alphabetic", "dx": 1.7, "dy": 22.7, "color": "#000000"},
          "encoding": {
            "x": {"datum": 1987.2, "type": "quantitative", "scale": {"domain": [1987.2, 2016.04], "nice": false, "zero": false}},
            "y": {"datum": 2.5, "type": "quantitative", "scale": {"domain": [-0.97, 2.5], "nice": false, "zero": false}}
          }
        }
      ]
    },
    {
      "width": 1205,
      "height": 125,
      "data": {"name": "monthly"},
      "transform": [
        {"calculate": "datum.yr + (datum.mo - 1) / 12", "as": "t"},
        {"calculate": "max(datum.amo, 0)", "as": "pos"},
        {"calculate": "min(datum.amo, 0)", "as": "neg"}
      ],
      "layer": [
        {
          "data": {"values": [{"g": -0.3}, {"g": -0.1}, {"g": 0.1}, {"g": 0.3}, {"g": 0.5}]},
          "mark": {"type": "rule", "color": "#F0F0F0", "strokeWidth": 1},
          "encoding": {
            "y": {"field": "g", "type": "quantitative", "scale": {"domain": [-0.387, 0.542], "nice": false, "zero": false}}
          }
        },
        {
          "mark": {"type": "area", "color": "#FFD6D6"},
          "encoding": {
            "x": {"field": "t", "type": "quantitative", "scale": {"domain": [1987.2, 2016.04], "nice": false, "zero": false},
              "axis": {"values": [1988, 1990.5, 1993, 1995.5, 1998, 2000.5, 2003, 2005.5, 2008, 2010.5, 2013, 2015.5], "labels": false, "title": null,
                "gridColor": {"condition": {"test": "datum.value % 5 === 3", "value": "#E2E2E2"}, "value": "#F0F0F0"},
                "tickOpacity": {"condition": {"test": "datum.value % 5 === 3", "value": 1}, "value": 0}}},
            "y": {"field": "pos", "type": "quantitative", "scale": {"domain": [-0.387, 0.542], "nice": false, "zero": false},
              "axis": {"values": [-0.2, 0, 0.2, 0.4], "format": ".1f", "gridColor": "#E2E2E2",
                "title": "AMO", "titleX": -50, "titleBaseline": "alphabetic", "titleAngle": 270}},
            "y2": {"datum": 0}
          }
        },
        {
          "mark": {"type": "area", "color": "#C9EDFB"},
          "encoding": {
            "x": {"field": "t", "type": "quantitative", "scale": {"domain": [1987.2, 2016.04], "nice": false, "zero": false}},
            "y": {"field": "neg", "type": "quantitative", "scale": {"domain": [-0.387, 0.542], "nice": false, "zero": false}},
            "y2": {"datum": 0}
          }
        },
        {
          "data": {"values": [{}]},
          "mark": {"type": "rule", "color": "#555555", "strokeWidth": 1},
          "encoding": {
            "y": {"datum": 0, "type": "quantitative", "scale": {"domain": [-0.387, 0.542], "nice": false, "zero": false}}
          }
        },
        {
          "mark": {"type": "line", "color": "#2a2a2a", "strokeWidth": 0.7},
          "encoding": {
            "x": {"field": "t", "type": "quantitative", "scale": {"domain": [1987.2, 2016.04], "nice": false, "zero": false}},
            "y": {"field": "amo", "type": "quantitative", "scale": {"domain": [-0.387, 0.542], "nice": false, "zero": false}}
          }
        },
        {
          "data": {"values": [{}]},
          "mark": {"type": "text", "text": "(d)", "fontWeight": "bold", "fontSize": 18, "align": "left", "baseline": "alphabetic", "dx": 1.7, "dy": 22.7, "color": "#000000"},
          "encoding": {
            "x": {"datum": 1987.2, "type": "quantitative", "scale": {"domain": [1987.2, 2016.04], "nice": false, "zero": false}},
            "y": {"datum": 0.542, "type": "quantitative", "scale": {"domain": [-0.387, 0.542], "nice": false, "zero": false}}
          }
        }
      ]
    },
    {
      "width": 1205,
      "height": 126,
      "data": {"name": "monthly"},
      "transform": [
        {"calculate": "datum.yr + (datum.mo - 1) / 12", "as": "t"},
        {"calculate": "max(datum.nao, 0)", "as": "pos"},
        {"calculate": "min(datum.nao, 0)", "as": "neg"}
      ],
      "layer": [
        {
          "data": {"values": [{"g": -3.75}, {"g": -1.25}, {"g": 1.25}, {"g": 3.75}]},
          "mark": {"type": "rule", "color": "#F0F0F0", "strokeWidth": 1},
          "encoding": {
            "y": {"field": "g", "type": "quantitative", "scale": {"domain": [-4.69, 5.32], "nice": false, "zero": false}}
          }
        },
        {
          "mark": {"type": "area", "color": "#FFD6D6"},
          "encoding": {
            "x": {"field": "t", "type": "quantitative", "scale": {"domain": [1987.2, 2016.04], "nice": false, "zero": false},
              "axis": {"values": [1988, 1990.5, 1993, 1995.5, 1998, 2000.5, 2003, 2005.5, 2008, 2010.5, 2013, 2015.5], "title": "Year", "titlePadding": 0, "labelPadding": 0,
                "labelExpr": "datum.value % 5 === 3 ? format(datum.value, 'd') : ''",
                "gridColor": {"condition": {"test": "datum.value % 5 === 3", "value": "#E2E2E2"}, "value": "#F0F0F0"},
                "tickOpacity": {"condition": {"test": "datum.value % 5 === 3", "value": 1}, "value": 0}}},
            "y": {"field": "pos", "type": "quantitative", "scale": {"domain": [-4.69, 5.32], "nice": false, "zero": false},
              "axis": {"values": [-2.5, 0, 2.5, 5], "format": ".1f", "gridColor": "#E2E2E2",
                "title": "NAO", "titleX": -50, "titleBaseline": "alphabetic", "titleAngle": 270}},
            "y2": {"datum": 0}
          }
        },
        {
          "mark": {"type": "area", "color": "#C9EDFB"},
          "encoding": {
            "x": {"field": "t", "type": "quantitative", "scale": {"domain": [1987.2, 2016.04], "nice": false, "zero": false}},
            "y": {"field": "neg", "type": "quantitative", "scale": {"domain": [-4.69, 5.32], "nice": false, "zero": false}},
            "y2": {"datum": 0}
          }
        },
        {
          "data": {"values": [{}]},
          "mark": {"type": "rule", "color": "#555555", "strokeWidth": 1},
          "encoding": {
            "y": {"datum": 0, "type": "quantitative", "scale": {"domain": [-4.69, 5.32], "nice": false, "zero": false}}
          }
        },
        {
          "mark": {"type": "line", "color": "#2a2a2a", "strokeWidth": 0.7},
          "encoding": {
            "x": {"field": "t", "type": "quantitative", "scale": {"domain": [1987.2, 2016.04], "nice": false, "zero": false}},
            "y": {"field": "nao", "type": "quantitative", "scale": {"domain": [-4.69, 5.32], "nice": false, "zero": false}}
          }
        },
        {
          "data": {"values": [{}]},
          "mark": {"type": "text", "text": "(e)", "fontWeight": "bold", "fontSize": 18, "align": "left", "baseline": "alphabetic", "dx": 1.7, "dy": 22.7, "color": "#000000"},
          "encoding": {
            "x": {"datum": 1987.2, "type": "quantitative", "scale": {"domain": [1987.2, 2016.04], "nice": false, "zero": false}},
            "y": {"datum": 5.32, "type": "quantitative", "scale": {"domain": [-4.69, 5.32], "nice": false, "zero": false}}
          }
        }
      ]
    }
  ]
}
